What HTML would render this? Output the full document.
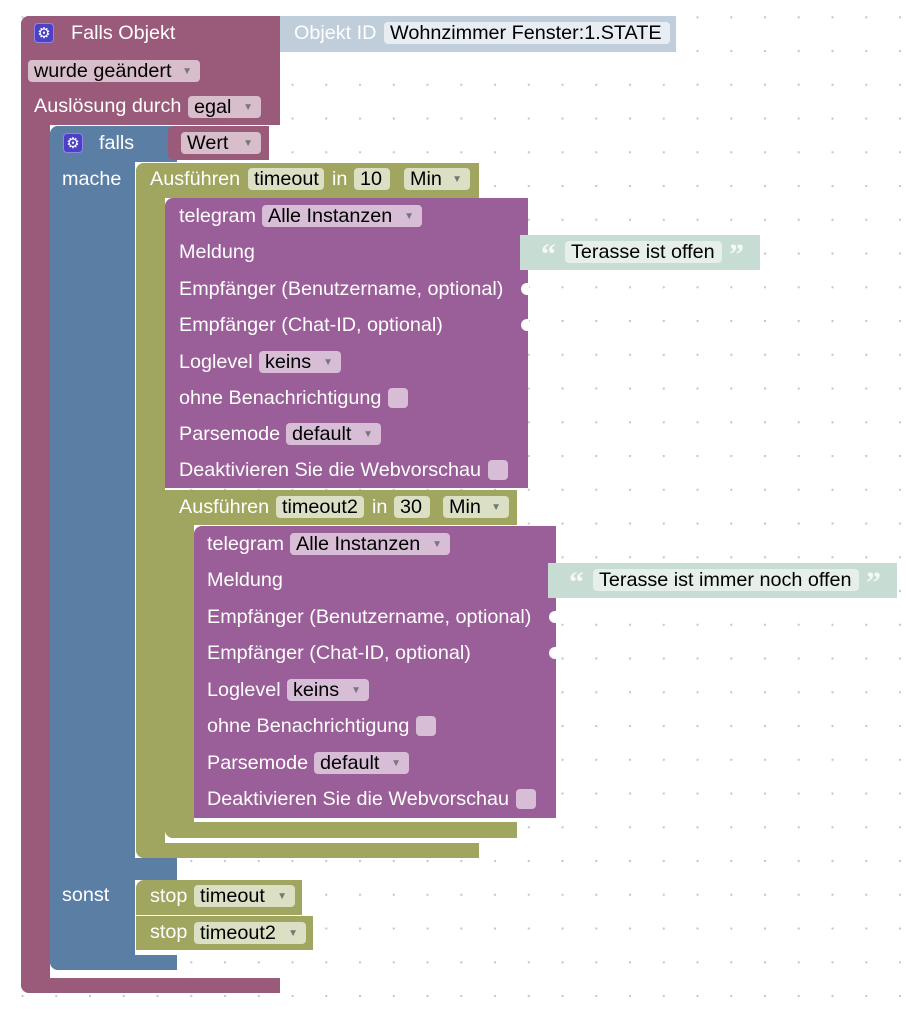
<!DOCTYPE html>
<html><head><meta charset="utf-8"><style>
body{margin:0;width:906px;height:1016px;background:#fff;position:relative;overflow:hidden;font-family:"Liberation Sans",Arial,sans-serif;}
.b{position:absolute;}
.t{position:absolute;color:#fff;font-size:19.8px;line-height:22px;white-space:nowrap;}
.f{position:absolute;height:22px;line-height:22px;font-size:19.8px;color:#000;border-radius:4px;padding:0 6px;box-sizing:border-box;white-space:nowrap;}
.f i{font-style:normal;font-size:10px;color:#777;position:absolute;right:8px;top:1px;}
.m{background:#9a5b7b}.bl{background:#5b7ea5}.o{background:#a0a55f}.p{background:#9a5e98}
.fm{background:#d8bdcb}.fo{background:#dbdfc4}.fp{background:#d7bdd6}
.cb{position:absolute;width:20px;height:20px;border-radius:4px;background:#d7bdd6;}
.g{position:absolute;width:20px;height:20px;border-radius:4px;background:#4c40c8;color:#fff;font-size:15px;line-height:20px;text-align:center;border:1px solid #8c86e0;box-sizing:border-box;}
.n{position:absolute;width:8px;height:12px;background:#fff;border-radius:6px 0 0 6px;}
.q{position:absolute;color:#f4f8f6;font-weight:bold;font-family:'Liberation Serif',serif;font-size:30px;line-height:30px;}
</style></head><body>
<svg class="b" style="left:0;top:0" width="906" height="1016">
<defs><pattern id="d" x="21.5" y="16.25" width="33.75" height="33.75" patternUnits="userSpaceOnUse"><circle cx="1" cy="1" r="1.2" fill="#c8c8c8"/></pattern></defs>
<rect width="906" height="1016" fill="url(#d)"/>
</svg>
<div class="b m" style="left:21px;top:16px;width:259px;height:109px;border-radius:8px 0 0 0"></div>
<div class="b m" style="left:21px;top:16px;width:29px;height:977px;border-radius:8px 0 0 8px"></div>
<div class="b m" style="left:21px;top:978px;width:259px;height:15px;border-radius:0 0 0 8px"></div>
<div class="b" style="left:280px;top:16px;width:396px;height:36px;background:#c0cddb"></div>
<div class="t" style="left:294px;top:22px">Objekt ID</div>
<div class="f" style="left:384px;top:22px;width:286px;background:#e8edf3">Wohnzimmer Fenster:1.STATE</div>
<div class="g" style="left:34px;top:23px">⚙</div>
<div class="t" style="left:71px;top:22px">Falls Objekt</div>
<div class="f fm" style="left:28px;top:60px;width:172px">wurde geändert<i>▼</i></div>
<div class="t" style="left:34px;top:95px">Auslösung durch</div>
<div class="f fm" style="left:188px;top:96px;width:73px">egal<i>▼</i></div>
<div class="b bl" style="left:50px;top:126px;width:127px;height:36px;border-radius:8px 0 0 0"></div>
<div class="b bl" style="left:50px;top:126px;width:85px;height:844px;border-radius:8px 0 0 8px"></div>
<div class="b bl" style="left:50px;top:858px;width:127px;height:22px"></div>
<div class="b bl" style="left:50px;top:955px;width:127px;height:15px;border-radius:0 0 0 8px"></div>
<div class="b m" style="left:168px;top:126px;width:101px;height:34px;border-radius:6px 0 0 6px"></div>
<div class="g" style="left:63px;top:133px">⚙</div>
<div class="t" style="left:99px;top:132px">falls</div>
<div class="f fm" style="left:181px;top:132px;width:80px">Wert<i>▼</i></div>
<div class="t" style="left:62px;top:168px">mache</div>
<div class="t" style="left:62px;top:884px">sonst</div>
<div class="b o" style="left:136px;top:163px;width:343px;height:35px;border-radius:8px 0 0 0"></div>
<div class="b o" style="left:136px;top:163px;width:29px;height:695px;border-radius:8px 0 0 8px"></div>
<div class="b o" style="left:136px;top:843px;width:343px;height:15px;border-radius:0 0 0 8px"></div>
<div class="t" style="left:150px;top:168px">Ausführen</div>
<div class="f fo" style="left:248px;top:168px;width:76px">timeout</div>
<div class="t" style="left:332px;top:168px">in</div>
<div class="f fo" style="left:354px;top:168px;width:36px">10</div>
<div class="f fo" style="left:404px;top:168px;width:66px">Min<i>▼</i></div>
<div class="b p" style="left:165px;top:198px;width:363px;height:290px;border-radius:8px 0 0 0"></div>
<div class="t" style="left:179px;top:205px">telegram</div>
<div class="f fp" style="left:262px;top:205px;width:160px">Alle Instanzen<i>▼</i></div>
<div class="t" style="left:179px;top:241px">Meldung</div>
<div class="t" style="left:179px;top:278px">Empfänger (Benutzername, optional)</div>
<div class="t" style="left:179px;top:314px">Empfänger (Chat-ID, optional)</div>
<div class="t" style="left:179px;top:351px">Loglevel</div>
<div class="f fp" style="left:259px;top:351px;width:82px">keins<i>▼</i></div>
<div class="t" style="left:179px;top:387px">ohne Benachrichtigung</div>
<div class="cb" style="left:388px;top:388px"></div>
<div class="t" style="left:179px;top:423px">Parsemode</div>
<div class="f fp" style="left:286px;top:423px;width:95px">default<i>▼</i></div>
<div class="t" style="left:179px;top:459px">Deaktivieren Sie die Webvorschau</div>
<div class="cb" style="left:488px;top:460px"></div>
<div class="n" style="left:521px;top:283px"></div>
<div class="n" style="left:521px;top:319px"></div>
<div class="b" style="left:520px;top:235px;width:240px;height:35px;background:#c7ddd3"></div>
<div class="q" style="left:541px;top:240px">“</div>
<div class="f" style="left:565px;top:241px;width:157px;background:#e6efea">Terasse ist offen</div>
<div class="q" style="left:729px;top:240px">”</div>
<div class="b o" style="left:165px;top:490px;width:352px;height:35px"></div>
<div class="b o" style="left:165px;top:490px;width:29px;height:348px;border-radius:0 0 0 8px"></div>
<div class="b o" style="left:165px;top:822px;width:352px;height:16px;border-radius:0 0 0 8px"></div>
<div class="t" style="left:179px;top:496px">Ausführen</div>
<div class="f fo" style="left:276px;top:496px;width:88px">timeout2</div>
<div class="t" style="left:372px;top:496px">in</div>
<div class="f fo" style="left:394px;top:496px;width:36px">30</div>
<div class="f fo" style="left:443px;top:496px;width:66px">Min<i>▼</i></div>
<div class="b p" style="left:194px;top:526px;width:362px;height:292px;border-radius:8px 0 0 0"></div>
<div class="t" style="left:207px;top:533px">telegram</div>
<div class="f fp" style="left:290px;top:533px;width:160px">Alle Instanzen<i>▼</i></div>
<div class="t" style="left:207px;top:569px">Meldung</div>
<div class="t" style="left:207px;top:606px">Empfänger (Benutzername, optional)</div>
<div class="t" style="left:207px;top:642px">Empfänger (Chat-ID, optional)</div>
<div class="t" style="left:207px;top:679px">Loglevel</div>
<div class="f fp" style="left:287px;top:679px;width:82px">keins<i>▼</i></div>
<div class="t" style="left:207px;top:715px">ohne Benachrichtigung</div>
<div class="cb" style="left:416px;top:716px"></div>
<div class="t" style="left:207px;top:752px">Parsemode</div>
<div class="f fp" style="left:314px;top:752px;width:95px">default<i>▼</i></div>
<div class="t" style="left:207px;top:788px">Deaktivieren Sie die Webvorschau</div>
<div class="cb" style="left:516px;top:789px"></div>
<div class="n" style="left:549px;top:611px"></div>
<div class="n" style="left:549px;top:647px"></div>
<div class="b" style="left:548px;top:563px;width:349px;height:35px;background:#c7ddd3"></div>
<div class="q" style="left:569px;top:568px">“</div>
<div class="f" style="left:593px;top:569px;width:266px;background:#e6efea">Terasse ist immer noch offen</div>
<div class="q" style="left:866px;top:568px">”</div>
<div class="b o" style="left:136px;top:880px;width:166px;height:35px;border-radius:8px 0 0 0"></div>
<div class="t" style="left:150px;top:885px">stop</div>
<div class="f fo" style="left:194px;top:885px;width:101px">timeout<i>▼</i></div>
<div class="b o" style="left:136px;top:916px;width:177px;height:34px"></div>
<div class="t" style="left:150px;top:921px">stop</div>
<div class="f fo" style="left:194px;top:922px;width:112px">timeout2<i>▼</i></div>
</body></html>
